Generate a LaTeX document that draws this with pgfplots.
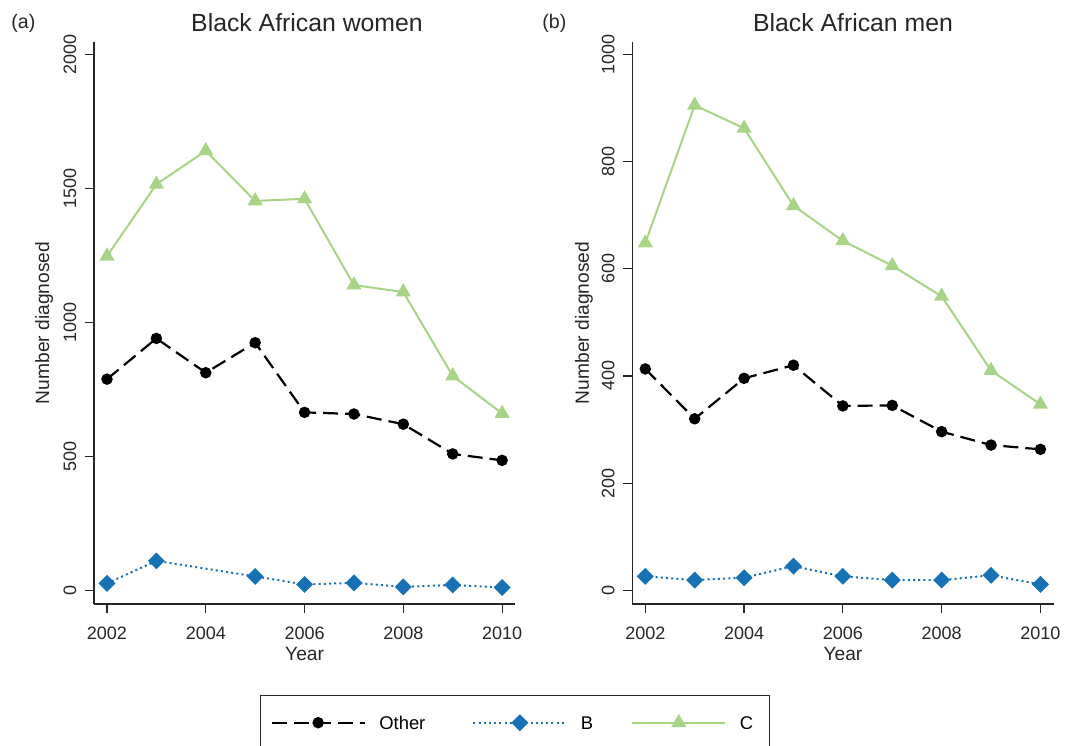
\documentclass[border=0pt]{standalone}
\usepackage{pgfplots}
\pgfplotsset{compat=1.18}
\usepackage{fontspec}
\setmainfont{Liberation Sans}
\definecolor{cgreen}{RGB}{168,212,134}
\definecolor{cblue}{RGB}{22,114,180}
\pgfplotsset{
  panel/.style={
    scale only axis,
    width=210.6pt, height=281pt,
    axis x line*=bottom, axis y line*=left,
    axis line style={line width=0.6pt, color=black!85},
    tick style={line width=0.6pt, color=black!85},
    tick align=outside, major tick length=4.5pt,
    xmin=2001.737, xmax=2010.265,
    xtick={2002,2004,2006,2008,2010},
    /pgf/number format/assume math mode=true,
    /pgf/number format/1000 sep={},
    ticklabel style={font=\fontsize{9}{10}\selectfont, color=black!85},
    yticklabel style={rotate=90, anchor=south, inner sep=0pt},
    xticklabel style={anchor=north, inner sep=0pt},
    xticklabel shift=7pt,
    yticklabel shift=4.2pt,
    xlabel={Year},
    xlabel style={font=\fontsize{9.6}{11}\selectfont, at={(axis description cs:0.5,-0.0765)}, anchor=north, inner sep=0pt, color=black!85},
    ylabel={Number diagnosed},
    ylabel style={font=\fontsize{9.6}{11}\selectfont, anchor=south, inner sep=0pt, color=black!85},
    clip=false,
  },
  othr/.style={black, line width=1.1pt, dash pattern=on 7.5pt off 3.5pt, mark=*, mark size=2.3pt, mark options={solid}},
  bser/.style={cblue, line width=1pt, dash pattern=on 1pt off 1.6pt, mark=square*, mark size=2.5pt, mark options={solid, rotate=45}},
  cser/.style={cgreen, line width=1pt, solid, mark=triangle*, mark size=3.4pt},
}
\begin{document}
\begin{tikzpicture}
\begin{axis}[panel,
  at={(47pt,-302pt)}, anchor=south west,
  ymin=-51, ymax=2046,
  ytick={0,500,1000,1500,2000},
  ylabel style={at={(axis description cs:-0.096,0.5)}},
  legend columns=3,
  legend image code/.code={
    \draw[mark repeat=2,mark phase=2,#1] plot coordinates {(0pt,0pt) (23.25pt,0pt) (46.5pt,0pt)};
  },
  legend style={at={(0.394,-0.162)}, anchor=north west, draw=black!85, line width=0.6pt,
    font=\fontsize{9.2}{10}\selectfont, inner xsep=5pt, inner ysep=10pt,
    nodes={inner sep=0pt, text depth=0pt},
    /tikz/every odd column/.append style={column sep=6.8pt},
    /tikz/column 2/.style={column sep=23.5pt},
    /tikz/column 4/.style={column sep=19pt},
  },
]
\addplot[othr] coordinates {(2002,788) (2003,940) (2004,812) (2005,924) (2006,664) (2007,658) (2008,620) (2009,509) (2010,485)};
\addlegendentry{Other}
\addplot[bser] coordinates {(2002,26) (2003,110) (2005,52) (2006,22) (2007,28) (2008,13) (2009,20) (2010,11)};
\addlegendentry{B}
\addplot[cser] coordinates {(2002,1247) (2003,1515) (2004,1640) (2005,1453) (2006,1461) (2007,1139) (2008,1113) (2009,800) (2010,660)};
\addlegendentry{C\hspace*{3pt}}
\end{axis}
\begin{axis}[panel,
  at={(316.15pt,-302pt)}, anchor=south west,
  ymin=-25.6, ymax=1023,
  ytick={0,200,400,600,800,1000},
  ylabel style={at={(axis description cs:-0.0925,0.5)}},
]
\addplot[othr] coordinates {(2002,413) (2003,320) (2004,395.5) (2005,420) (2006,344) (2007,345) (2008,296) (2009,271) (2010,263)};
\addplot[bser] coordinates {(2002,26) (2003,19) (2004,23.5) (2005,45) (2006,26) (2007,19) (2008,19) (2009,28) (2010,11)};
\addplot[cser] coordinates {(2002,648) (2003,905) (2004,862) (2005,717.5) (2006,652) (2007,605.6) (2008,548.5) (2009,410) (2010,347)};
\end{axis}
\node[anchor=base, inner sep=0pt, font=\fontsize{12.4}{14}\selectfont, color=black!85] at (153.5pt,-15.85pt) {Black African women};
\node[anchor=base, inner sep=0pt, font=\fontsize{12.4}{14}\selectfont, color=black!85] at (426.5pt,-15.85pt) {Black African men};
\node[anchor=base west, inner sep=0pt, font=\fontsize{9.8}{11}\selectfont, color=black!85] at (5.5pt,-14pt) {(a)};
\node[anchor=base west, inner sep=0pt, font=\fontsize{9.8}{11}\selectfont, color=black!85] at (271pt,-14pt) {(b)};
\pgfresetboundingbox
\useasboundingbox (0pt,0pt) rectangle (539.5pt,-372.5pt);
\end{tikzpicture}
\end{document}
